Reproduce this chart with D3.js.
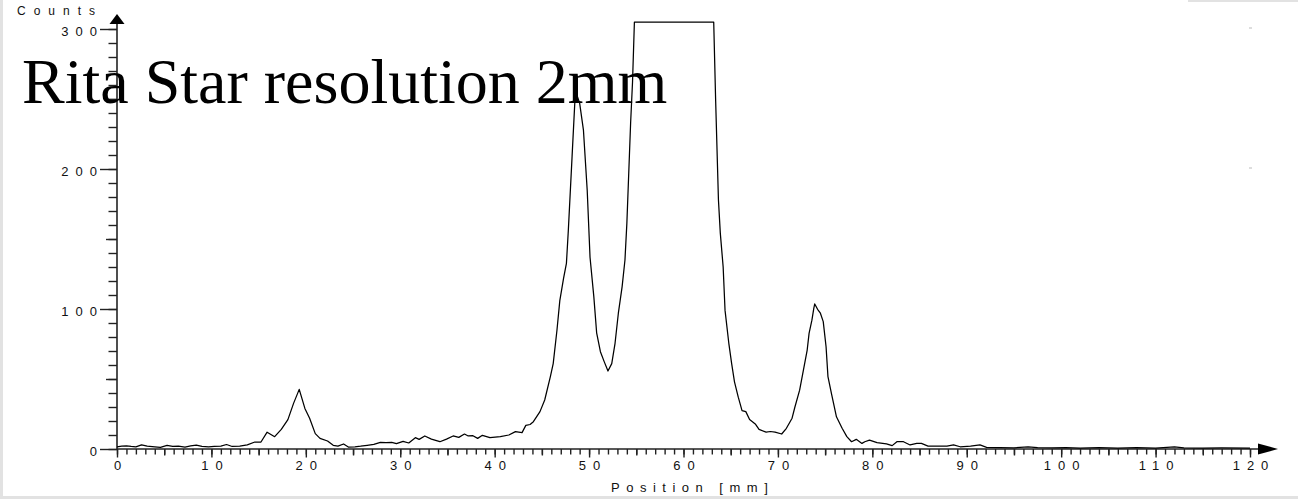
<!DOCTYPE html>
<html>
<head>
<meta charset="utf-8">
<script src="https://cdn.jsdelivr.net/npm/d3@7"></script>
<style>
  body { margin: 0; background: #fff; }
  svg { display: block; }
  .tick text { font-family: "Liberation Sans", Arial, sans-serif; font-size: 13px; fill: #111; }
  .axis line { stroke: #222; stroke-width: 1.4; }
</style>
</head>
<body>
<div class="js-chart"></div>
<script>
// positions in mm and counts
var positions = [
  0, 0.5, 1.0, 1.5, 2.0, 2.6, 3.2, 4.0, 4.6, 5.3, 5.9, 6.5, 7.2, 7.8, 8.4, 9.0, 9.7, 10.3, 11.0, 11.6, 12.2, 13.0, 13.8,
  14.6, 15.25, 15.9, 16.7, 17.4, 18.1, 18.7, 19.3, 19.9, 20.4, 21.0, 21.5, 22.3, 22.9, 23.4, 24.0, 24.5, 25.2, 25.8,
  26.5, 27.2, 27.9, 28.5, 29.1, 29.6, 30.3, 30.9, 31.6, 32.0, 32.6, 33.3, 34.2, 34.9, 35.6, 36.2, 36.8, 37.2, 37.7,
  38.2, 38.7, 39.5, 40.6, 41.5, 42.2, 42.9, 43.3, 43.75, 44.1, 44.8, 45.3, 45.9, 46.2, 46.6, 46.9, 47.3, 47.6, 47.8,
  48.2, 48.5, 48.7, 49.0, 49.4, 49.8, 50.1, 50.5, 50.8, 51.2, 51.6, 52.0, 52.4, 52.75, 53.1, 53.5, 53.8, 54.0, 54.2,
  54.4, 54.6, 54.8, 63.2, 63.4, 63.7, 63.9, 64.2, 64.4, 64.8, 65.1, 65.4, 65.8, 66.2, 66.6, 67.0, 67.6, 68.0, 68.75,
  69.2, 69.7, 70.4, 70.9, 71.5, 71.8, 72.3, 72.7, 73.1, 73.3, 73.6, 73.8, 73.9, 74.2, 74.5, 74.8, 75.1, 75.3, 75.7,
  76.2, 76.8, 77.3, 77.8, 78.3, 78.9, 79.2, 79.7, 80.5, 81.5, 82.1, 82.6, 83.3, 84.0, 84.7, 85.2, 85.9, 87.0, 87.9,
  88.6, 89.3, 90.4, 91.4, 92.1, 93.5, 95, 96.5, 97.5, 99, 100.5, 102, 104, 106, 108, 110, 112, 113, 115, 117, 120
];
var counts = [
  1.5, 2, 2.2, 1.8, 1.5, 3, 2, 1.5, 1.2, 2.6, 1.8, 2, 1.4, 2.2, 2.8, 1.8, 1.6, 1.8, 2, 3.2, 1.8, 2, 3,
  5, 5, 12, 8.8, 14, 21, 32.6, 42.6, 29, 22, 11, 7.6, 5.7, 2.6, 2, 3.6, 1.4, 1.6, 2,
  2.6, 3.3, 4.8, 4.6, 4.8, 3.8, 5.5, 4.3, 8.1, 6.9, 9.3, 7.1, 5.2, 7.1, 9.3, 8.3, 10.7, 9.3, 9.5,
  7.6, 9.8, 8.1, 8.8, 10, 12.4, 11.7, 16.9, 17.5, 19.5, 26.7, 35, 51.7, 61, 85, 106, 122, 132.6, 156,
  209, 249, 253, 247, 228, 185, 137, 109, 83, 69.5, 62.4, 55.7, 61, 75.5, 97, 116, 135, 161, 197,
  233, 262, 305, 305, 250, 178, 154, 130, 99, 75.5, 61, 48, 37, 27.4, 26.7, 21, 17.9, 14, 12,
  12.5, 12, 10.7, 14.8, 22, 30, 42, 56.4, 70.7, 82.6, 92, 100.5, 103.6, 99.8, 97, 91, 73, 51.7, 38.6,
  23, 14.8, 8.8, 5.2, 6.9, 4, 5.2, 6.4, 4.5, 3.6, 2.4, 5.2, 5.2, 2.9, 4, 4, 2.1, 2, 2.1,
  2.9, 1.6, 2.1, 2.9, 1.2, 1, 0.8, 1.5, 1, 0.8, 1, 0.6, 0.9, 0.7, 0.9, 0.6, 1.5, 0.8, 0.6, 0.8, 0.7
];
var xTickLabels = [0, 10, 20, 30, 40, 50, 60, 70, 80, 90, 100, 110, 120];
var yTickLabels = [0, 100, 200, 300];
var title = "Rita Star resolution 2mm";

var W = 1298, H = 499;
var svg = d3.select(".js-chart").append("svg").attr("width", W).attr("height", H);

// grey scan borders
svg.append("rect").attr("x", 0).attr("y", 0).attr("width", 3).attr("height", H).attr("fill", "#e2e2e2");
svg.append("rect").attr("x", 0).attr("y", 496).attr("width", W).attr("height", 3).attr("fill", "#e2e2e2");
svg.append("rect").attr("x", 1188).attr("y", 0).attr("width", 110).attr("height", 2).attr("fill", "#e2e2e2");

var x = d3.scaleLinear().domain([0, 120]).range([117, 1250]);
var y = d3.scaleLinear().domain([0, 300]).range([449, 29]);

// x axis: minor, half and major ticks
function xAxisLayer(vals, size, labels) {
  var ax = d3.axisBottom(x).tickValues(vals).tickSize(size).tickSizeOuter(0)
    .tickFormat(labels ? function(d) { return d; } : "");
  var g = svg.append("g").attr("class", "axis").attr("transform", "translate(0," + y(0) + ")").call(ax);
  g.select(".domain").remove();
  return g;
}
xAxisLayer(d3.range(0, 121, 1), 5.5);
xAxisLayer(d3.range(5, 121, 10), 6.5);
var gx = xAxisLayer(xTickLabels, 8.5, true);
gx.selectAll("text").attr("y", 12).attr("dy", "0.71em")
  .style("letter-spacing", "7px").attr("dx", 3.5);

function yAxisLayer(vals, size, labels) {
  var ax = d3.axisLeft(y).tickValues(vals).tickSize(size).tickSizeOuter(0)
    .tickFormat(labels ? function(d) { return d; } : "");
  var g = svg.append("g").attr("class", "axis").attr("transform", "translate(" + x(0) + ",0)").call(ax);
  g.select(".domain").remove();
  return g;
}
yAxisLayer(d3.range(0, 301, 10), 8.5);
yAxisLayer(d3.range(50, 301, 100), 11);
var gy = yAxisLayer(yTickLabels, 17, true);
gy.selectAll("text").attr("x", -13).attr("dy", "0.5em").style("letter-spacing", "7px");

// axis lines with arrow heads
var axisColor = "#222";
svg.append("line").attr("x1", x(0)).attr("x2", x(120) + 8).attr("y1", y(0)).attr("y2", y(0))
  .attr("stroke", axisColor).attr("stroke-width", 1.6);
svg.append("path")
  .attr("d", "M" + (x(120) + 8) + "," + (y(0) - 5.5) + "L" + (x(120) + 28) + "," + y(0) + "L" + (x(120) + 8) + "," + (y(0) + 5.5) + "Z")
  .attr("fill", "#000");
svg.append("line").attr("x1", x(0)).attr("x2", x(0)).attr("y1", y(0)).attr("y2", y(300) - 5)
  .attr("stroke", axisColor).attr("stroke-width", 1.6);
svg.append("path")
  .attr("d", "M" + (x(0) - 7.5) + "," + (y(300) - 5) + "L" + x(0) + "," + (y(300) - 15) + "L" + (x(0) + 7.5) + "," + (y(300) - 5) + "Z")
  .attr("fill", "#000");

// tiny marks at the right edge
svg.selectAll(".rmark").data([300, 200]).enter().append("line")
  .attr("x1", 1249).attr("x2", 1252).attr("y1", function(d) { return y(d) - 1; }).attr("y2", function(d) { return y(d) - 1; })
  .attr("stroke", "#bbb").attr("stroke-width", 1);

// axis titles
svg.append("text").attr("x", 17).attr("y", 15)
  .style("font-family", "Liberation Sans, Arial, sans-serif").style("font-size", "12px")
  .style("letter-spacing", "8px").attr("fill", "#111").text("Counts");
svg.append("text").attr("x", 611).attr("y", 492)
  .style("font-family", "Liberation Sans, Arial, sans-serif").style("font-size", "13px")
  .style("letter-spacing", "6.5px").attr("fill", "#111").text("Position [mm]");

// the profile
var points = positions.map(function(p, i) { return [p, counts[i]]; });
var line = d3.line().x(function(d) { return x(d[0]); }).y(function(d) { return y(d[1]); });
svg.append("path").datum(points).attr("d", line)
  .attr("fill", "none").attr("stroke", "#000").attr("stroke-width", 1.25).attr("stroke-linejoin", "round");

// title over everything
svg.append("text").attr("x", 22).attr("y", 103)
  .style("font-family", "Liberation Serif, 'Times New Roman', serif").style("font-size", "64px")
  .attr("fill", "#000").text(title);
</script>
</body>
</html>
